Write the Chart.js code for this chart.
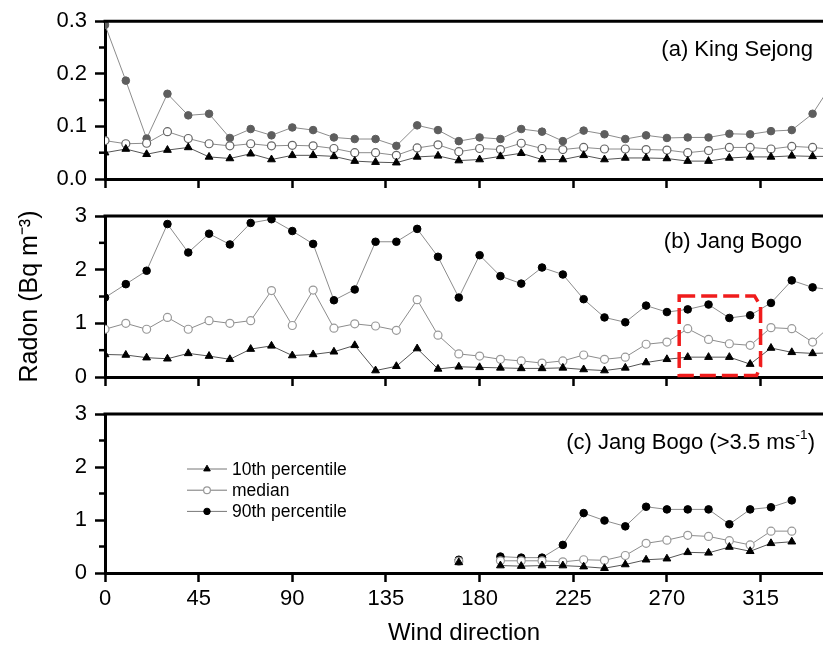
<!DOCTYPE html>
<html>
<head>
<meta charset="utf-8">
<script src="https://cdn.jsdelivr.net/npm/chart.js@4.4.1/dist/chart.umd.min.js"></script>
<style>
  html, body { margin: 0; padding: 0; background: #fff; }
  #wrap { position: relative; width: 823px; height: 656px; overflow: hidden; }
  #wrap canvas { position: absolute; left: 0; top: 0; }
</style>
</head>
<body>
<div id="wrap">
  <canvas id="panelA" width="823" height="656"></canvas>
  <canvas id="panelB" width="823" height="656"></canvas>
  <canvas id="panelC" width="823" height="656"></canvas>
</div>
<script>
// wind direction bins, degrees
var directions = [0, 10, 20, 30, 40, 50, 60, 70, 80, 90, 100, 110, 120, 130, 140, 150, 160, 170,
                  180, 190, 200, 210, 220, 230, 240, 250, 260, 270, 280, 290, 300, 310, 320, 330, 340, 350];
var xTicks = [0, 45, 90, 135, 180, 225, 270, 315];

// (a) King Sejong
var sejongP10 = [0.050, 0.057, 0.047, 0.055, 0.060, 0.042, 0.039, 0.048, 0.037, 0.045, 0.045, 0.043,
                 0.034, 0.032, 0.031, 0.042, 0.044, 0.035, 0.037, 0.043, 0.049, 0.037, 0.037, 0.045,
                 0.037, 0.040, 0.040, 0.039, 0.034, 0.034, 0.040, 0.042, 0.042, 0.044, 0.043, 0.043];
var sejongMedian = [0.073, 0.067, 0.068, 0.090, 0.077, 0.067, 0.063, 0.067, 0.063, 0.064, 0.063, 0.058,
                    0.050, 0.050, 0.045, 0.059, 0.065, 0.052, 0.058, 0.056, 0.068, 0.058, 0.056, 0.060,
                    0.057, 0.057, 0.056, 0.055, 0.050, 0.054, 0.060, 0.060, 0.057, 0.062, 0.060, 0.056];
var sejongP90 = [0.293, 0.187, 0.077, 0.162, 0.121, 0.124, 0.078, 0.095, 0.083, 0.098, 0.093, 0.079,
                 0.076, 0.076, 0.063, 0.102, 0.093, 0.072, 0.079, 0.076, 0.095, 0.090, 0.072, 0.092,
                 0.085, 0.076, 0.083, 0.078, 0.079, 0.079, 0.086, 0.085, 0.091, 0.093, 0.124, 0.185];

// (b) Jang Bogo
var bogoP10 = [0.42, 0.41, 0.36, 0.34, 0.44, 0.39, 0.33, 0.52, 0.58, 0.40, 0.42, 0.47,
               0.59, 0.12, 0.20, 0.53, 0.15, 0.19, 0.18, 0.17, 0.16, 0.16, 0.17, 0.14,
               0.12, 0.17, 0.27, 0.33, 0.37, 0.37, 0.37, 0.24, 0.54, 0.46, 0.44, 0.45];
var bogoMedian = [0.89, 1.00, 0.89, 1.11, 0.89, 1.05, 1.00, 1.05, 1.61, 0.96, 1.62, 0.91,
                  0.99, 0.95, 0.87, 1.44, 0.78, 0.43, 0.39, 0.33, 0.30, 0.26, 0.30, 0.41,
                  0.33, 0.37, 0.61, 0.65, 0.90, 0.70, 0.62, 0.59, 0.92, 0.90, 0.65, 1.00];
var bogoP90 = [1.48, 1.73, 1.98, 2.85, 2.32, 2.67, 2.47, 2.87, 2.94, 2.72, 2.48, 1.43,
               1.63, 2.52, 2.52, 2.76, 2.24, 1.48, 2.27, 1.88, 1.74, 2.04, 1.91, 1.45,
               1.11, 1.02, 1.33, 1.21, 1.26, 1.35, 1.10, 1.15, 1.38, 1.80, 1.67, 1.62];

// (c) Jang Bogo, wind speed > 3.5 m/s
var strongP10 = [null, null, null, null, null, null, null, null, null, null, null, null,
                 null, null, null, null, null, 0.20, null, 0.14, 0.13, 0.14, 0.14, 0.12,
                 0.09, 0.16, 0.25, 0.27, 0.39, 0.38, 0.49, 0.41, 0.56, 0.59, null, null];
var strongMedian = [null, null, null, null, null, null, null, null, null, null, null, null,
                    null, null, null, null, null, 0.22, null, 0.23, 0.23, 0.23, 0.21, 0.25,
                    0.24, 0.33, 0.56, 0.62, 0.71, 0.69, 0.61, 0.53, 0.79, 0.79, null, null];
var strongP90 = [null, null, null, null, null, null, null, null, null, null, null, null,
                 null, null, null, null, null, 0.25, null, 0.31, 0.29, 0.29, 0.53, 1.13,
                 0.99, 0.88, 1.25, 1.20, 1.20, 1.20, 0.92, 1.20, 1.24, 1.37, null, null];

var seriesNames = ['10th percentile', 'median', '90th percentile'];

var FONT = "'Liberation Sans', Arial, sans-serif";
Chart.defaults.font.family = FONT;
Chart.defaults.color = '#000';

function points(values) {
    return directions.map(function(d, i) {
        return { x: d, y: values[i] };
    });
}

function makeDatasets(p10, med, p90, dark) {
    return [{
        label: seriesNames[0],
        data: points(p10),
        borderColor: '#555',
        borderWidth: 1,
        pointStyle: 'triangle',
        pointRadius: 4.5,
        pointBackgroundColor: '#000',
        pointBorderColor: '#000',
        pointBorderWidth: 1
    }, {
        label: seriesNames[1],
        data: points(med),
        borderColor: '#8c8c8c',
        borderWidth: 1,
        pointStyle: 'circle',
        pointRadius: 4,
        pointBackgroundColor: '#fff',
        pointBorderColor: dark ? '#666' : '#999',
        pointBorderWidth: 1.2
    }, {
        label: seriesNames[2],
        data: points(p90),
        borderColor: '#8c8c8c',
        borderWidth: 1,
        pointStyle: 'circle',
        pointRadius: 3.8,
        pointBackgroundColor: dark ? '#5e5e5e' : '#000',
        pointBorderColor: dark ? '#5e5e5e' : '#000',
        pointBorderWidth: 1
    }];
}

// top frame line + short minor ticks on the y axis
var frame = {
    id: 'frame',
    afterDraw: function(chart, args, opts) {
        var ctx = chart.ctx, a = chart.chartArea, y = chart.scales.y;
        ctx.save();
        ctx.strokeStyle = '#000';
        ctx.lineWidth = 3;
        ctx.beginPath();
        ctx.moveTo(a.left - 1.5, a.top);
        ctx.lineTo(a.right, a.top);
        ctx.stroke();
        ctx.lineWidth = 2.5;
        for (var v = opts.minor; v < y.max; v += opts.minor * 2) {
            var py = y.getPixelForValue(v);
            ctx.beginPath();
            ctx.moveTo(a.left - 6, py);
            ctx.lineTo(a.left, py);
            ctx.stroke();
        }
        ctx.restore();
    }
};

// panel caption, right aligned, with optional superscript parts
var caption = {
    id: 'caption',
    afterDraw: function(chart, args, opts) {
        var ctx = chart.ctx, a = chart.chartArea;
        var size = 22;
        ctx.save();
        ctx.fillStyle = '#000';
        ctx.textBaseline = 'middle';
        var widths = opts.parts.map(function(p) {
            ctx.font = (p.sup ? size * 0.62 : size) + 'px ' + FONT;
            return ctx.measureText(p.t).width;
        });
        var x = a.right - opts.right - widths.reduce(function(s, w) { return s + w; }, 0);
        var y = a.top + opts.top;
        opts.parts.forEach(function(p, i) {
            ctx.font = (p.sup ? size * 0.62 : size) + 'px ' + FONT;
            ctx.fillText(p.t, x, p.sup ? y - size * 0.33 : y);
            x += widths[i];
        });
        ctx.restore();
    }
};

function drawMarker(ctx, ds, x, y) {
    var r = ds.pointRadius;
    ctx.fillStyle = ds.pointBackgroundColor;
    ctx.strokeStyle = ds.pointBorderColor;
    ctx.lineWidth = ds.pointBorderWidth;
    ctx.beginPath();
    if (ds.pointStyle === 'triangle') {
        ctx.moveTo(x, y - r);
        ctx.lineTo(x + r * 0.866, y + r * 0.5);
        ctx.lineTo(x - r * 0.866, y + r * 0.5);
        ctx.closePath();
    } else {
        ctx.arc(x, y, r, 0, Math.PI * 2);
    }
    ctx.fill();
    ctx.stroke();
}

// in-plot legend: line sample, marker, label
var sampleLegend = {
    id: 'sampleLegend',
    afterDraw: function(chart, args, opts) {
        var ctx = chart.ctx, a = chart.chartArea;
        ctx.save();
        chart.data.datasets.forEach(function(ds, i) {
            var x0 = a.left + opts.left;
            var y = a.top + opts.top + i * opts.gap;
            ctx.strokeStyle = '#777';
            ctx.lineWidth = 1;
            ctx.beginPath();
            ctx.moveTo(x0, y);
            ctx.lineTo(x0 + 40, y);
            ctx.stroke();
            drawMarker(ctx, { pointStyle: ds.pointStyle, pointRadius: ds.pointRadius * 0.85,
                              pointBackgroundColor: ds.pointBackgroundColor,
                              pointBorderColor: ds.pointBorderColor,
                              pointBorderWidth: ds.pointBorderWidth }, x0 + 20, y);
            ctx.fillStyle = '#000';
            ctx.font = '17.5px ' + FONT;
            ctx.textBaseline = 'middle';
            ctx.fillText(ds.label, x0 + 45, y + 1);
        });
        ctx.restore();
    }
};

// dashed highlight around the 280-310 sector, in data units
var highlight = {
    id: 'highlight',
    afterDatasetsDraw: function(chart, args, opts) {
        var ctx = chart.ctx, xs = chart.scales.x, ys = chart.scales.y;
        ctx.save();
        ctx.strokeStyle = '#f01c1c';
        ctx.lineWidth = 3.5;
        ctx.setLineDash([16, 6]);
        ctx.beginPath();
        opts.outline.forEach(function(p, i) {
            var px = xs.getPixelForValue(p[0]), py = ys.getPixelForValue(p[1]);
            if (i === 0) ctx.moveTo(px, py); else ctx.lineTo(px, py);
        });
        ctx.closePath();
        ctx.stroke();
        ctx.restore();
    }
};

function panel(id, cfg) {
    return new Chart(document.getElementById(id), {
        type: 'line',
        data: { datasets: cfg.datasets },
        options: {
            responsive: false,
            animation: false,
            events: [],
            layout: { autoPadding: false, padding: { top: cfg.top, bottom: cfg.bottom, left: 0, right: 0 } },
            plugins: {
                legend: { display: false },
                tooltip: { enabled: false },
                frame: { minor: cfg.yStep / 2 },
                caption: cfg.caption,
                sampleLegend: cfg.legend || {},
                highlight: cfg.highlight || {}
            },
            scales: {
                x: {
                    type: 'linear',
                    min: 0,
                    max: 345,
                    afterBuildTicks: function(s) {
                        s.ticks = xTicks.map(function(v) { return { value: v }; });
                    },
                    afterFit: function(s) { s.height = cfg.xHeight; },
                    ticks: { display: cfg.xLabels, padding: 4, autoSkip: false, font: { size: 22 } },
                    grid: { drawOnChartArea: false, tickLength: 9, tickWidth: 2.5, tickColor: '#000' },
                    border: { color: '#000', width: 3 },
                    title: {
                        display: cfg.xLabels,
                        text: 'Wind direction',
                        font: { size: 24 },
                        padding: { top: 0, bottom: 8 }
                    }
                },
                y: {
                    min: 0,
                    max: cfg.yMax,
                    afterFit: function(s) { s.width = 105; },
                    ticks: {
                        stepSize: cfg.yStep,
                        padding: 8,
                        font: { size: 22 },
                        callback: function(v) { return cfg.yStep < 1 ? v.toFixed(1) : String(v); }
                    },
                    grid: { drawOnChartArea: false, tickLength: 10, tickWidth: 2.5, tickColor: '#000' },
                    border: { color: '#000', width: 3 },
                    title: {
                        display: !!cfg.yTitle,
                        text: cfg.yTitle,
                        font: { size: 25 },
                        padding: { top: 15, bottom: 0 }
                    }
                }
            }
        },
        plugins: cfg.plugins
    });
}

panel('panelA', {
    datasets: makeDatasets(sejongP10, sejongMedian, sejongP90, true),
    top: 18, bottom: 457, xHeight: 20, xLabels: false,
    yMax: 0.3, yStep: 0.1,
    caption: { parts: [{ t: '(a) King Sejong' }], right: 10, top: 29 },
    plugins: [frame, caption]
});

panel('panelB', {
    datasets: makeDatasets(bogoP10, bogoMedian, bogoP90, false),
    top: 216, bottom: 259, xHeight: 20, xLabels: false,
    yMax: 3, yStep: 1,
    yTitle: 'Radon (Bq m\u207B\u00B3)',
    caption: { parts: [{ t: '(b) Jang Bogo' }], right: 21, top: 26 },
    highlight: { outline: [[275.9, 1.51], [312.1, 1.51], [315.0, 1.32], [315.0, 0.20], [313.1, 0.03], [275.9, 0.03]] },
    plugins: [frame, caption, highlight]
});

panel('panelC', {
    datasets: makeDatasets(strongP10, strongMedian, strongP90, false),
    top: 414, bottom: 0, xHeight: 83, xLabels: true,
    yMax: 3, yStep: 1,
    caption: { parts: [{ t: '(c) Jang Bogo (>3.5 ms' }, { t: '-1', sup: true }, { t: ')' }], right: 8, top: 29 },
    legend: { left: 82, top: 55, gap: 21.2 },
    plugins: [frame, caption, sampleLegend]
});
</script>
</body>
</html>
